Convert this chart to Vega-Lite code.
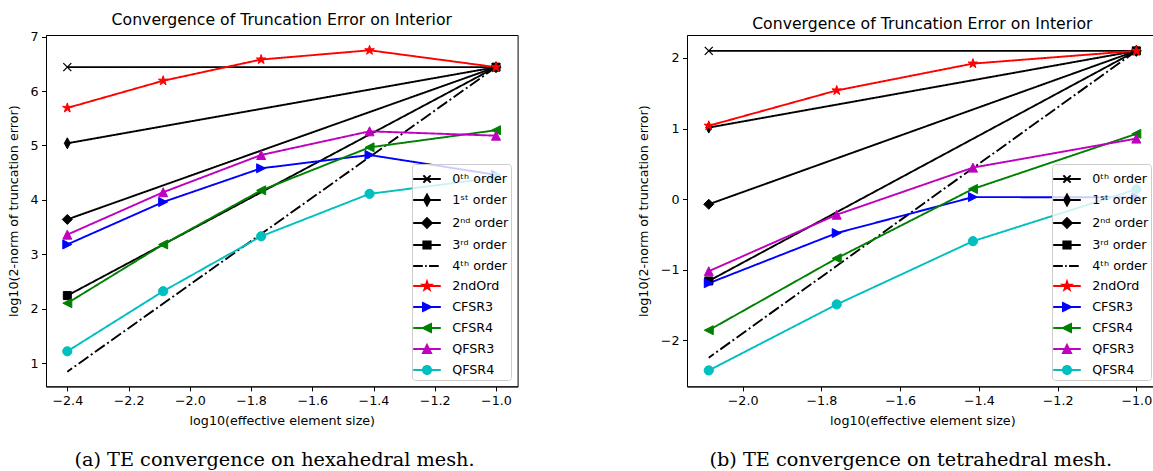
{
  "$schema": "https://vega.github.io/schema/vega-lite/v6.json",
  "background": "white",
  "padding": {"left": 6, "top": 11, "right": 0, "bottom": 0},
  "autosize": {"type": "pad"},
  "config": {
    "view": {"stroke": "black", "strokeWidth": 1},
    "font": "DejaVu Sans",
    "axis": {"grid": false, "domainColor": "black", "domainWidth": 1, "tickColor": "black", "tickWidth": 1, "tickSize": 4.5, "labelPadding": 4, "labelFont": "DejaVu Sans", "labelFontSize": 12.7, "labelColor": "black", "titleFont": "DejaVu Sans", "titleFontSize": 12.7, "titleFontWeight": "normal", "titleColor": "black", "labelFlush": false, "labelOverlap": false},
    "axisX": {"titlePadding": 6.5},
    "axisY": {"titlePadding": 9.5, "labelPadding": 3.5},
    "title": {"font": "DejaVu Sans", "fontSize": 15.7, "fontWeight": "normal", "color": "black"},
    "legend": {"orient": "bottom-right", "offset": 6.5, "padding": 2, "rowPadding": 0, "symbolSize": 580, "symbolStrokeWidth": 1.9, "labelOffset": 12.2, "labelExpr": "datum.label + '  '", "labelFont": "DejaVu Sans", "labelFontSize": 12.7, "labelColor": "black", "fillColor": "rgba(255,255,255,0.8)", "strokeColor": "#cccccc", "cornerRadius": 3}
  },
  "datasets": {
    "hex": [
      {"s": "0ᵗʰ order", "x": -2.4, "y": 6.44}, {"s": "0ᵗʰ order", "x": -1.0, "y": 6.44},
      {"s": "1ˢᵗ order", "x": -2.4, "y": 5.04}, {"s": "1ˢᵗ order", "x": -1.0, "y": 6.44},
      {"s": "2ⁿᵈ order", "x": -2.4, "y": 3.64}, {"s": "2ⁿᵈ order", "x": -1.0, "y": 6.44},
      {"s": "3ʳᵈ order", "x": -2.4, "y": 2.24}, {"s": "3ʳᵈ order", "x": -1.0, "y": 6.44},
      {"s": "4ᵗʰ order", "x": -2.4, "y": 0.84}, {"s": "4ᵗʰ order", "x": -1.0, "y": 6.44},
      {"s": "2ndOrd", "x": -2.4, "y": 5.69}, {"s": "2ndOrd", "x": -2.087, "y": 6.19}, {"s": "2ndOrd", "x": -1.767, "y": 6.58}, {"s": "2ndOrd", "x": -1.413, "y": 6.75}, {"s": "2ndOrd", "x": -1.0, "y": 6.44},
      {"s": "CFSR3", "x": -2.4, "y": 3.18}, {"s": "CFSR3", "x": -2.087, "y": 3.96}, {"s": "CFSR3", "x": -1.767, "y": 4.58}, {"s": "CFSR3", "x": -1.413, "y": 4.825}, {"s": "CFSR3", "x": -1.0, "y": 4.46},
      {"s": "CFSR4", "x": -2.4, "y": 2.1}, {"s": "CFSR4", "x": -2.087, "y": 3.18}, {"s": "CFSR4", "x": -1.767, "y": 4.175}, {"s": "CFSR4", "x": -1.413, "y": 4.965}, {"s": "CFSR4", "x": -1.0, "y": 5.28},
      {"s": "QFSR3", "x": -2.4, "y": 3.36}, {"s": "QFSR3", "x": -2.087, "y": 4.14}, {"s": "QFSR3", "x": -1.767, "y": 4.825}, {"s": "QFSR3", "x": -1.413, "y": 5.26}, {"s": "QFSR3", "x": -1.0, "y": 5.18},
      {"s": "QFSR4", "x": -2.4, "y": 1.215}, {"s": "QFSR4", "x": -2.087, "y": 2.32}, {"s": "QFSR4", "x": -1.767, "y": 3.33}, {"s": "QFSR4", "x": -1.413, "y": 4.11}, {"s": "QFSR4", "x": -1.0, "y": 4.41}
    ],
    "tet": [
      {"s": "0ᵗʰ order", "x": -2.086, "y": 2.1}, {"s": "0ᵗʰ order", "x": -1.0, "y": 2.1},
      {"s": "1ˢᵗ order", "x": -2.086, "y": 1.014}, {"s": "1ˢᵗ order", "x": -1.0, "y": 2.1},
      {"s": "2ⁿᵈ order", "x": -2.086, "y": -0.072}, {"s": "2ⁿᵈ order", "x": -1.0, "y": 2.1},
      {"s": "3ʳᵈ order", "x": -2.086, "y": -1.158}, {"s": "3ʳᵈ order", "x": -1.0, "y": 2.1},
      {"s": "4ᵗʰ order", "x": -2.086, "y": -2.244}, {"s": "4ᵗʰ order", "x": -1.0, "y": 2.1},
      {"s": "2ndOrd", "x": -2.086, "y": 1.04}, {"s": "2ndOrd", "x": -1.761, "y": 1.54}, {"s": "2ndOrd", "x": -1.415, "y": 1.92}, {"s": "2ndOrd", "x": -1.0, "y": 2.1},
      {"s": "CFSR3", "x": -2.086, "y": -1.19}, {"s": "CFSR3", "x": -1.761, "y": -0.48}, {"s": "CFSR3", "x": -1.415, "y": 0.03}, {"s": "CFSR3", "x": -1.0, "y": 0.025},
      {"s": "CFSR4", "x": -2.086, "y": -1.855}, {"s": "CFSR4", "x": -1.761, "y": -0.837}, {"s": "CFSR4", "x": -1.415, "y": 0.145}, {"s": "CFSR4", "x": -1.0, "y": 0.925},
      {"s": "QFSR3", "x": -2.086, "y": -1.02}, {"s": "QFSR3", "x": -1.761, "y": -0.22}, {"s": "QFSR3", "x": -1.415, "y": 0.447}, {"s": "QFSR3", "x": -1.0, "y": 0.858},
      {"s": "QFSR4", "x": -2.086, "y": -2.425}, {"s": "QFSR4", "x": -1.761, "y": -1.49}, {"s": "QFSR4", "x": -1.415, "y": -0.595}, {"s": "QFSR4", "x": -1.0, "y": 0.14}
    ]
  },
  "spacing": 118,
  "resolve": {
    "scale": {"x": "independent", "y": "independent", "color": "independent", "fill": "independent", "stroke": "independent", "shape": "independent", "strokeDash": "independent"},
    "legend": {"shape": "independent", "fill": "independent", "stroke": "independent", "color": "independent", "strokeDash": "independent"}
  },
  "hconcat": [
    {
      "title": {"text": "(a) TE convergence on hexahedral mesh.", "orient": "bottom", "anchor": "middle", "font": "DejaVu Serif", "fontSize": 19.3, "fontWeight": "normal", "offset": 24, "dx": 12},
      "resolve": {
        "scale": {"x": "independent", "y": "independent", "color": "independent", "fill": "independent", "stroke": "independent", "shape": "independent", "strokeDash": "independent"},
        "legend": {"shape": "independent", "fill": "independent", "stroke": "independent", "color": "independent", "strokeDash": "independent"}
      },
      "vconcat": [
        {
          "width": 471.6,
          "height": 351.4,
          "title": {"text": "Convergence of Truncation Error on Interior", "frame": "group", "offset": 2},
          "data": {"name": "hex"},
          "encoding": {
            "x": {"field": "x", "type": "quantitative", "scale": {"domain": [-2.4696, -0.9295], "nice": false, "zero": false}, "axis": {"values": [-2.4, -2.2, -2.0, -1.8, -1.6, -1.4, -1.2, -1.0], "format": ".1f", "title": "log10(effective element size)"}},
            "y": {"field": "y", "type": "quantitative", "scale": {"domain": [0.57, 7.031], "nice": false, "zero": false}, "axis": {"values": [1, 2, 3, 4, 5, 6, 7], "format": "d", "title": "log10(2-norm of truncation error)"}}
          },
          "layer": [
            {
              "mark": {"type": "line", "strokeWidth": 1.9},
              "encoding": {
                "color": {"field": "s", "type": "nominal", "title": null, "scale": {"domain": ["0ᵗʰ order", "1ˢᵗ order", "2ⁿᵈ order", "3ʳᵈ order", "4ᵗʰ order", "2ndOrd", "CFSR3", "CFSR4", "QFSR3", "QFSR4"], "range": ["#000000", "#000000", "#000000", "#000000", "#000000", "#ff0000", "#0000ff", "#008000", "#bf00bf", "#00bfbf"]}},
                "strokeDash": {"field": "s", "type": "nominal", "title": null, "scale": {"domain": ["0ᵗʰ order", "1ˢᵗ order", "2ⁿᵈ order", "3ʳᵈ order", "4ᵗʰ order", "2ndOrd", "CFSR3", "CFSR4", "QFSR3", "QFSR4"], "range": [[1, 0], [1, 0], [1, 0], [1, 0], [12, 3, 2, 3], [1, 0], [1, 0], [1, 0], [1, 0], [1, 0]]}},
                "order": {"field": "x", "sort": "descending"}
              }
            },
            {"transform": [{"filter": "datum.s == '0ᵗʰ order'"}], "mark": {"type": "point", "shape": "M-0.8,-0.8L0.8,0.8M-0.8,0.8L0.8,-0.8", "size": 100, "filled": true, "fill": "#000000", "stroke": "#000000", "strokeWidth": 1.3, "opacity": 1}},
            {"transform": [{"filter": "datum.s == '1ˢᵗ order'"}], "mark": {"type": "point", "shape": "M0,-1.1L0.6,0L0,1.1L-0.6,0Z", "size": 100, "filled": true, "fill": "#000000", "stroke": "#000000", "strokeWidth": 1, "opacity": 1}},
            {"transform": [{"filter": "datum.s == '2ⁿᵈ order'"}], "mark": {"type": "point", "shape": "M0,-1L1,0L0,1L-1,0Z", "size": 100, "filled": true, "fill": "#000000", "stroke": "#000000", "strokeWidth": 1, "opacity": 1}},
            {"transform": [{"filter": "datum.s == '3ʳᵈ order'"}], "mark": {"type": "point", "shape": "M-0.8,-0.8L0.8,-0.8L0.8,0.8L-0.8,0.8Z", "size": 100, "filled": true, "fill": "#000000", "stroke": "#000000", "strokeWidth": 1, "opacity": 1}},
            {"transform": [{"filter": "datum.s == '2ndOrd'"}], "mark": {"type": "point", "shape": "M0,-1L0.225,-0.309L0.951,-0.309L0.363,0.118L0.588,0.809L0,0.382L-0.588,0.809L-0.363,0.118L-0.951,-0.309L-0.225,-0.309Z", "size": 100, "filled": true, "fill": "#ff0000", "stroke": "#ff0000", "strokeWidth": 1, "opacity": 1}},
            {"transform": [{"filter": "datum.s == 'CFSR3'"}], "mark": {"type": "point", "shape": "M0.9,0L-0.9,-0.9L-0.9,0.9Z", "size": 100, "filled": true, "fill": "#0000ff", "stroke": "#0000ff", "strokeWidth": 1, "opacity": 1}},
            {"transform": [{"filter": "datum.s == 'CFSR4'"}], "mark": {"type": "point", "shape": "M-0.9,0L0.9,-0.9L0.9,0.9Z", "size": 100, "filled": true, "fill": "#008000", "stroke": "#008000", "strokeWidth": 1, "opacity": 1}},
            {"transform": [{"filter": "datum.s == 'QFSR3'"}], "mark": {"type": "point", "shape": "M0,-0.9L0.9,0.9L-0.9,0.9Z", "size": 100, "filled": true, "fill": "#bf00bf", "stroke": "#bf00bf", "strokeWidth": 1, "opacity": 1}},
            {"transform": [{"filter": "datum.s == 'QFSR4'"}], "mark": {"type": "point", "shape": "M0.92,0A0.92,0.92,0,1,1,-0.92,0A0.92,0.92,0,1,1,0.92,0Z", "size": 100, "filled": true, "fill": "#00bfbf", "stroke": "#00bfbf", "strokeWidth": 1, "opacity": 1}},
            {
              "transform": [{"filter": "false"}],
              "mark": {"type": "point", "filled": true, "opacity": 1, "strokeWidth": 1.9},
              "encoding": {
                "fill": {"field": "s", "type": "nominal", "title": null, "scale": {"domain": ["0ᵗʰ order", "1ˢᵗ order", "2ⁿᵈ order", "3ʳᵈ order", "4ᵗʰ order", "2ndOrd", "CFSR3", "CFSR4", "QFSR3", "QFSR4"], "range": ["#000000", "#000000", "#000000", "#000000", "#000000", "#ff0000", "#0000ff", "#008000", "#bf00bf", "#00bfbf"]}},
                "stroke": {"field": "s", "type": "nominal", "title": null, "scale": {"domain": ["0ᵗʰ order", "1ˢᵗ order", "2ⁿᵈ order", "3ʳᵈ order", "4ᵗʰ order", "2ndOrd", "CFSR3", "CFSR4", "QFSR3", "QFSR4"], "range": ["#000000", "#000000", "#000000", "#000000", "#000000", "#ff0000", "#0000ff", "#008000", "#bf00bf", "#00bfbf"]}},
                "shape": {"field": "s", "type": "nominal", "title": null,
                  "scale": {"domain": ["0ᵗʰ order", "1ˢᵗ order", "2ⁿᵈ order", "3ʳᵈ order", "4ᵗʰ order", "2ndOrd", "CFSR3", "CFSR4", "QFSR3", "QFSR4"],
                    "range": ["M-1.146,0L1.146,0M-0.304,-0.304L0.304,0.304M-0.304,0.304L0.304,-0.304", "M-1.146,0L1.146,0M0,-0.451L0.248,0L0,0.451L-0.248,0Z", "M-1.146,0L1.146,0M0,-0.406L0.406,0L0,0.406L-0.406,0Z", "M-1.146,0L1.146,0M-0.304,-0.304L0.304,-0.304L0.304,0.304L-0.304,0.304Z", "M-1.146,0L-0.349,0M-0.15,0L-0.023,0M0.172,0L0.975,0", "M-1.146,0L1.146,0M0,-0.372L0.083,-0.115L0.354,-0.115L0.135,0.044L0.219,0.301L0,0.142L-0.219,0.301L-0.135,0.044L-0.354,-0.115L-0.083,-0.115Z", "M-1.146,0L1.146,0M0.338,0L-0.338,-0.338L-0.338,0.338Z", "M-1.146,0L1.146,0M-0.338,0L0.338,-0.338L0.338,0.338Z", "M-1.146,0L1.146,0M0,-0.338L0.338,0.338L-0.338,0.338Z", "M-1.146,0L1.146,0M0.338,0A0.338,0.338,0,1,1,-0.338,0A0.338,0.338,0,1,1,0.338,0Z"]},
                  "legend": {"title": null}
                }
              }
            }
          ]
        }
      ]
    },
    {
      "title": {"text": "(b) TE convergence on tetrahedral mesh.", "orient": "bottom", "anchor": "middle", "font": "DejaVu Serif", "fontSize": 19.3, "fontWeight": "normal", "offset": 24, "dx": 13},
      "resolve": {
        "scale": {"x": "independent", "y": "independent", "color": "independent", "fill": "independent", "stroke": "independent", "shape": "independent", "strokeDash": "independent"},
        "legend": {"shape": "independent", "fill": "independent", "stroke": "independent", "color": "independent", "strokeDash": "independent"}
      },
      "vconcat": [
        {
          "width": 470.7,
          "height": 351.4,
          "title": {"text": "Convergence of Truncation Error on Interior", "frame": "group", "offset": 2},
          "data": {"name": "tet"},
          "encoding": {
            "x": {"field": "x", "type": "quantitative", "scale": {"domain": [-2.1413, -0.9457], "nice": false, "zero": false}, "axis": {"values": [-2.0, -1.8, -1.6, -1.4, -1.2, -1.0], "format": ".1f", "title": "log10(effective element size)"}},
            "y": {"field": "y", "type": "quantitative", "scale": {"domain": [-2.651, 2.325], "nice": false, "zero": false}, "axis": {"values": [-2, -1, 0, 1, 2], "format": "d", "title": "log10(2-norm of truncation error)"}}
          },
          "layer": [
            {
              "mark": {"type": "line", "strokeWidth": 1.9},
              "encoding": {
                "color": {"field": "s", "type": "nominal", "title": null, "scale": {"domain": ["0ᵗʰ order", "1ˢᵗ order", "2ⁿᵈ order", "3ʳᵈ order", "4ᵗʰ order", "2ndOrd", "CFSR3", "CFSR4", "QFSR3", "QFSR4"], "range": ["#000000", "#000000", "#000000", "#000000", "#000000", "#ff0000", "#0000ff", "#008000", "#bf00bf", "#00bfbf"]}},
                "strokeDash": {"field": "s", "type": "nominal", "title": null, "scale": {"domain": ["0ᵗʰ order", "1ˢᵗ order", "2ⁿᵈ order", "3ʳᵈ order", "4ᵗʰ order", "2ndOrd", "CFSR3", "CFSR4", "QFSR3", "QFSR4"], "range": [[1, 0], [1, 0], [1, 0], [1, 0], [12, 3, 2, 3], [1, 0], [1, 0], [1, 0], [1, 0], [1, 0]]}},
                "order": {"field": "x", "sort": "descending"}
              }
            },
            {"transform": [{"filter": "datum.s == '0ᵗʰ order'"}], "mark": {"type": "point", "shape": "M-0.8,-0.8L0.8,0.8M-0.8,0.8L0.8,-0.8", "size": 100, "filled": true, "fill": "#000000", "stroke": "#000000", "strokeWidth": 1.3, "opacity": 1}},
            {"transform": [{"filter": "datum.s == '1ˢᵗ order'"}], "mark": {"type": "point", "shape": "M0,-1.1L0.6,0L0,1.1L-0.6,0Z", "size": 100, "filled": true, "fill": "#000000", "stroke": "#000000", "strokeWidth": 1, "opacity": 1}},
            {"transform": [{"filter": "datum.s == '2ⁿᵈ order'"}], "mark": {"type": "point", "shape": "M0,-1L1,0L0,1L-1,0Z", "size": 100, "filled": true, "fill": "#000000", "stroke": "#000000", "strokeWidth": 1, "opacity": 1}},
            {"transform": [{"filter": "datum.s == '3ʳᵈ order'"}], "mark": {"type": "point", "shape": "M-0.8,-0.8L0.8,-0.8L0.8,0.8L-0.8,0.8Z", "size": 100, "filled": true, "fill": "#000000", "stroke": "#000000", "strokeWidth": 1, "opacity": 1}},
            {"transform": [{"filter": "datum.s == '2ndOrd'"}], "mark": {"type": "point", "shape": "M0,-1L0.225,-0.309L0.951,-0.309L0.363,0.118L0.588,0.809L0,0.382L-0.588,0.809L-0.363,0.118L-0.951,-0.309L-0.225,-0.309Z", "size": 100, "filled": true, "fill": "#ff0000", "stroke": "#ff0000", "strokeWidth": 1, "opacity": 1}},
            {"transform": [{"filter": "datum.s == 'CFSR3'"}], "mark": {"type": "point", "shape": "M0.9,0L-0.9,-0.9L-0.9,0.9Z", "size": 100, "filled": true, "fill": "#0000ff", "stroke": "#0000ff", "strokeWidth": 1, "opacity": 1}},
            {"transform": [{"filter": "datum.s == 'CFSR4'"}], "mark": {"type": "point", "shape": "M-0.9,0L0.9,-0.9L0.9,0.9Z", "size": 100, "filled": true, "fill": "#008000", "stroke": "#008000", "strokeWidth": 1, "opacity": 1}},
            {"transform": [{"filter": "datum.s == 'QFSR3'"}], "mark": {"type": "point", "shape": "M0,-0.9L0.9,0.9L-0.9,0.9Z", "size": 100, "filled": true, "fill": "#bf00bf", "stroke": "#bf00bf", "strokeWidth": 1, "opacity": 1}},
            {"transform": [{"filter": "datum.s == 'QFSR4'"}], "mark": {"type": "point", "shape": "M0.92,0A0.92,0.92,0,1,1,-0.92,0A0.92,0.92,0,1,1,0.92,0Z", "size": 100, "filled": true, "fill": "#00bfbf", "stroke": "#00bfbf", "strokeWidth": 1, "opacity": 1}},
            {
              "transform": [{"filter": "false"}],
              "mark": {"type": "point", "filled": true, "opacity": 1, "strokeWidth": 1.9},
              "encoding": {
                "fill": {"field": "s", "type": "nominal", "title": null, "scale": {"domain": ["0ᵗʰ order", "1ˢᵗ order", "2ⁿᵈ order", "3ʳᵈ order", "4ᵗʰ order", "2ndOrd", "CFSR3", "CFSR4", "QFSR3", "QFSR4"], "range": ["#000000", "#000000", "#000000", "#000000", "#000000", "#ff0000", "#0000ff", "#008000", "#bf00bf", "#00bfbf"]}},
                "stroke": {"field": "s", "type": "nominal", "title": null, "scale": {"domain": ["0ᵗʰ order", "1ˢᵗ order", "2ⁿᵈ order", "3ʳᵈ order", "4ᵗʰ order", "2ndOrd", "CFSR3", "CFSR4", "QFSR3", "QFSR4"], "range": ["#000000", "#000000", "#000000", "#000000", "#000000", "#ff0000", "#0000ff", "#008000", "#bf00bf", "#00bfbf"]}},
                "shape": {"field": "s", "type": "nominal", "title": null,
                  "scale": {"domain": ["0ᵗʰ order", "1ˢᵗ order", "2ⁿᵈ order", "3ʳᵈ order", "4ᵗʰ order", "2ndOrd", "CFSR3", "CFSR4", "QFSR3", "QFSR4"],
                    "range": ["M-1.146,0L1.146,0M-0.304,-0.304L0.304,0.304M-0.304,0.304L0.304,-0.304", "M-1.146,0L1.146,0M0,-0.451L0.248,0L0,0.451L-0.248,0Z", "M-1.146,0L1.146,0M0,-0.406L0.406,0L0,0.406L-0.406,0Z", "M-1.146,0L1.146,0M-0.304,-0.304L0.304,-0.304L0.304,0.304L-0.304,0.304Z", "M-1.146,0L-0.349,0M-0.15,0L-0.023,0M0.172,0L0.975,0", "M-1.146,0L1.146,0M0,-0.372L0.083,-0.115L0.354,-0.115L0.135,0.044L0.219,0.301L0,0.142L-0.219,0.301L-0.135,0.044L-0.354,-0.115L-0.083,-0.115Z", "M-1.146,0L1.146,0M0.338,0L-0.338,-0.338L-0.338,0.338Z", "M-1.146,0L1.146,0M-0.338,0L0.338,-0.338L0.338,0.338Z", "M-1.146,0L1.146,0M0,-0.338L0.338,0.338L-0.338,0.338Z", "M-1.146,0L1.146,0M0.338,0A0.338,0.338,0,1,1,-0.338,0A0.338,0.338,0,1,1,0.338,0Z"]},
                  "legend": {"title": null}
                }
              }
            }
          ]
        }
      ]
    }
  ]
}
